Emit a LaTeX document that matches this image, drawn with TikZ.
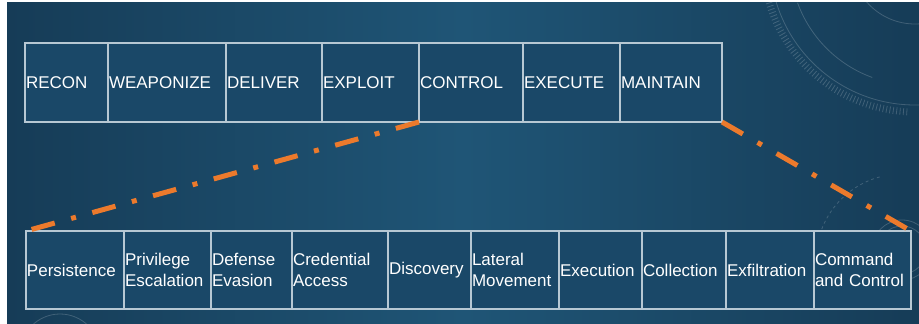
\documentclass[tikz,border=0pt]{standalone}
\usepackage{fontspec}
\setmainfont{Liberation Sans}
\usetikzlibrary{positioning}

\definecolor{bgdark}{HTML}{163C57}
\definecolor{bgmid}{HTML}{1F5576}
\definecolor{cellfill}{HTML}{1A4868}
\definecolor{cellline}{HTML}{B7C8D3}
\definecolor{killorange}{HTML}{EC7A2C}

\tikzset{
  phase/.style={draw=cellline, line width=1.4pt, fill=cellfill, text=white,
    outer sep=0pt, inner xsep=1pt, inner ysep=0pt, align=left,
    text width=#1, minimum height=79pt,
    font=\fontsize{17}{21}\selectfont},
  tactic/.style={phase=#1, minimum height=78pt},
  zoomline/.style={draw=killorange, line width=5pt,
    dash pattern=on 24pt off 17pt on 5pt off 17pt},
  deco/.style={draw=white, opacity=0.18, line width=0.8pt}
}

\begin{document}
\begin{tikzpicture}[x=1pt, y=1pt]
\useasboundingbox (0,0) rectangle (919,324);

% backdrop
\shade[left color=bgdark, right color=bgdark, middle color=bgmid]
  (7,0) rectangle (919,321);
\begin{scope}
  \clip (7,0) rectangle (919,321);
  \draw[deco] (915,364) circle (145);
  \draw[deco] (915,364) ++(200:125) arc (200:250:125);
  \draw[deco] (915,364) circle (64);
  \draw[deco, line width=7pt, dash pattern=on 0.8pt off 2.6pt]
    (915,364) ++(195:152) arc (195:268:152);
  \draw[deco] (902,74) circle (30);
  \draw[deco] (902,74) circle (24);
  \draw[deco, dashed] (902,64) ++(105:86) arc (105:190:86);
  \draw[deco] (60,-30) circle (40);
\end{scope}

% kill chain phases
\node[phase=81pt, anchor=north west] (recon) at (25,281) {RECON};
\node[phase=116pt, right=0pt of recon] (weaponize) {WEAPONIZE};
\node[phase=94pt, right=0pt of weaponize] (deliver) {DELIVER};
\node[phase=95pt, right=0pt of deliver] (exploit) {EXPLOIT};
\node[phase=102pt, right=0pt of exploit] (control) {CONTROL};
\node[phase=95pt, right=0pt of control] (execute) {EXECUTE};
\node[phase=100pt, right=0pt of execute] (maintain) {MAINTAIN};

% ATT&CK tactics
\node[tactic=96pt, anchor=north west] (persistence) at (26,93) {Persistence};
\node[tactic=85pt, right=0pt of persistence] (privesc) {Privilege\\Escalation};
\node[tactic=79pt, right=0pt of privesc] (evasion) {Defense\\Evasion};
\node[tactic=94pt, right=0pt of evasion] (credaccess) {Credential\\Access};
\node[tactic=81pt, right=0pt of credaccess] (discovery) {Discovery};
\node[tactic=86pt, right=0pt of discovery] (lateral) {Lateral\\Movement};
\node[tactic=81pt, right=0pt of lateral] (execution) {Execution};
\node[tactic=82pt, right=0pt of execution] (collection) {Collection};
\node[tactic=86pt, right=0pt of collection] (exfil) {Exfiltration};
\node[tactic=95pt, right=0pt of exfil] (cnc) {Command\\and Control};

% zoom from CONTROL..MAINTAIN down to the tactics
\draw[zoomline] (control.south west) -- (persistence.north west);
\draw[zoomline] (maintain.south east) -- (cnc.north east);
\end{tikzpicture}
\end{document}
